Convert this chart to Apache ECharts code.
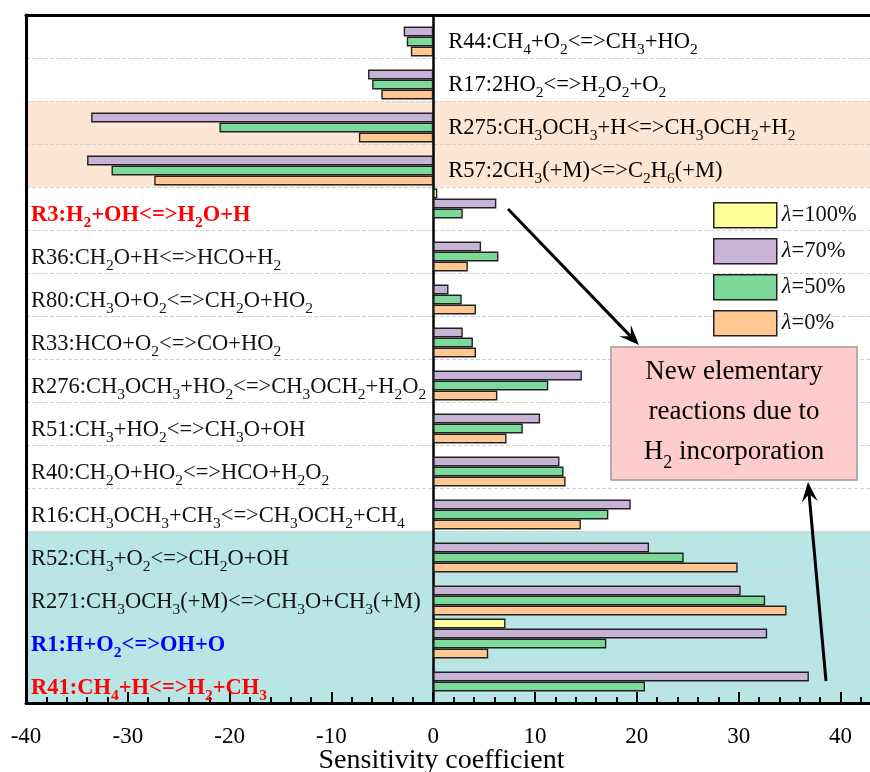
<!DOCTYPE html>
<html>
<head>
<meta charset="utf-8">
<script src="https://cdn.jsdelivr.net/npm/echarts@6/dist/echarts.min.js"></script>
<style>html,body{margin:0;padding:0;background:#fff;}#chart{width:870px;height:772px;}</style>
</head>
<body>
<div id="chart"></div>
<script>
// ---------------- data ----------------
const categories = [
  'R44:CH_4+O_2<=>CH_3+HO_2',
  'R17:2HO_2<=>H_2O_2+O_2',
  'R275:CH_3OCH_3+H<=>CH_3OCH_2+H_2',
  'R57:2CH_3(+M)<=>C_2H_6(+M)',
  'R3:H_2+OH<=>H_2O+H',
  'R36:CH_2O+H<=>HCO+H_2',
  'R80:CH_3O+O_2<=>CH_2O+HO_2',
  'R33:HCO+O_2<=>CO+HO_2',
  'R276:CH_3OCH_3+HO_2<=>CH_3OCH_2+H_2O_2',
  'R51:CH_3+HO_2<=>CH_3O+OH',
  'R40:CH_2O+HO_2<=>HCO+H_2O_2',
  'R16:CH_3OCH_3+CH_3<=>CH_3OCH_2+CH_4',
  'R52:CH_3+O_2<=>CH_2O+OH',
  'R271:CH_3OCH_3(+M)<=>CH_3O+CH_3(+M)',
  'R1:H+O_2<=>OH+O',
  'R41:CH_4+H<=>H_2+CH_3'
];
// label emphasis: n = normal, r = red bold, b = blue bold
const labelKinds = ['n','n','n','n','r','n','n','n','n','n','n','n','n','n','b','r'];
// categories whose label sits right of the zero line
const rightLabelCount = 4;
// background bands: [firstIndex, lastIndex, colour]
const bandGroups = [[2, 3, '#FDE6D4'], [12, 15, '#B9E5E5']];

const seriesNames = ['λ=100%', 'λ=70%', 'λ=50%', 'λ=0%'];
const lam100 = [null, null, null, null, 0.4, null, null, null, null, null, null, null, null, null, 7.1, null];
const lam70  = [-2.9, -6.4, -33.6, -34.0, 6.2, 4.7, 1.5, 2.9, 14.6, 10.5, 12.4, 19.4, 21.2, 30.2, 32.8, 36.9];
const lam50  = [-2.6, -6.0, -21.0, -31.6, 2.9, 6.4, 2.8, 3.9, 11.3, 8.8, 12.8, 17.2, 24.6, 32.6, 17.0, 20.8];
const lam0   = [-2.2, -5.1, -7.3, -27.4, null, 3.4, 4.2, 4.2, 6.3, 7.2, 13.0, 14.5, 29.9, 34.7, 5.4, null];
const seriesColors = ['#FFFF99', '#C8B3D7', '#7DD99A', '#FFC893'];

const xMin = -40, xMax = 43, xInterval = 10;
const xName = 'Sensitivity coefficient';
const noteLines = ['New elementary', 'reactions due to', 'H_2 incorporation'];

// ---------------- helpers ----------------
const FONT = 'Liberation Serif';
function toRich(s, kind) {
  let out = '', buf = '';
  for (let i = 0; i < s.length; i++) {
    if (s[i] === '_') {
      if (buf) { out += '{' + kind + '|' + buf + '}'; buf = ''; }
      out += '{' + kind + 's|' + s[i + 1] + '}';
      i++;
    } else buf += s[i];
  }
  if (buf) out += '{' + kind + '|' + buf + '}';
  return out;
}
function mainStyle(color, weight) {
  return { fontFamily: FONT, fontSize: 22.5, color: color, fontWeight: weight, lineHeight: 24, verticalAlign: 'top' };
}
function subStyle(color, weight) {
  return { fontFamily: FONT, fontSize: 15.5, color: color, fontWeight: weight, lineHeight: 16, padding: [11, 0, 0, 0], verticalAlign: 'top' };
}
const labelRich = {
  n: mainStyle('#111', 'normal'), ns: subStyle('#111', 'normal'),
  r: mainStyle('#FF0000', 'bold'), rs: subStyle('#FF0000', 'bold'),
  b: mainStyle('#0000FF', 'bold'), bs: subStyle('#0000FF', 'bold')
};
const bandColors = categories.map((c, i) => {
  for (const g of bandGroups) if (i >= g[0] && i <= g[1]) return g[2];
  return 'rgba(255,255,255,0)';
});

const allData = [lam100, lam70, lam50, lam0];
const series = seriesNames.map((name, k) => ({
  name: name,
  type: 'bar',
  xAxisIndex: 0,
  yAxisIndex: 0,
  data: allData[k],
  barWidth: 10,
  barGap: '0%',
  itemStyle: { color: seriesColors[k], borderColor: '#222', borderWidth: 1.4 },
  z: 3
}));

// labels of the top categories, anchored at value 0 on the category axis
series.push({
  type: 'custom',
  name: 'rightLabels',
  xAxisIndex: 0,
  yAxisIndex: 0,
  silent: true,
  z: 5,
  encode: { x: 0, y: 1 },
  data: categories.slice(0, rightLabelCount).map((c, i) => [0, i]),
  renderItem: function (params, api) {
    const idx = api.value(1);
    const p = api.coord([api.value(0), idx]);
    return {
      type: 'text',
      x: p[0] + 15,
      y: p[1],
      style: {
        text: toRich(categories[idx], labelKinds[idx]),
        rich: labelRich,
        align: 'left',
        verticalAlign: 'middle',
        padding: [13, 0, 0, 0]
      }
    };
  }
});

function arrow(x1, y1, x2, y2) {
  const ang = Math.atan2(y2 - y1, x2 - x1);
  const L = 20, W = 8, back = 12;
  const bx = x2 - L * Math.cos(ang), by = y2 - L * Math.sin(ang);
  const nx = -Math.sin(ang), ny = Math.cos(ang);
  const mx = x2 - back * Math.cos(ang), my = y2 - back * Math.sin(ang);
  return [
    { type: 'line', z: 100, shape: { x1: x1, y1: y1, x2: mx, y2: my }, style: { stroke: '#000', lineWidth: 3 } },
    { type: 'polygon', z: 100, shape: { points: [[x2, y2], [bx + nx * W, by + ny * W], [mx, my], [bx - nx * W, by - ny * W]] }, style: { fill: '#000' } }
  ];
}

const noteText = noteLines.map(l => toRich(l, 'm')).join('\n');

const chart = echarts.init(document.getElementById('chart'), null, { renderer: 'canvas' });
const option = {
  animation: false,
  backgroundColor: '#fff',
  grid: { left: 26, right: -1, top: 15, bottom: 69, containLabel: false, outerBoundsMode: 'none' },
  legend: {
    orient: 'vertical', left: 708, top: 197,
    itemWidth: 63, itemHeight: 25, itemGap: 9.5,
    icon: 'rect',
    data: seriesNames,
    itemStyle: { borderColor: '#222', borderWidth: 1.5 },
    formatter: n => '{i|λ}{t|' + n.slice(1) + '}',
    textStyle: {
      rich: {
        i: { fontFamily: FONT, fontSize: 22.5, fontStyle: 'italic', color: '#111' },
        t: { fontFamily: FONT, fontSize: 22.5, color: '#111' }
      }
    }
  },
  xAxis: [{
    type: 'value', min: xMin, max: xMax, interval: xInterval, position: 'bottom',
    axisLine: { show: true, onZero: false, lineStyle: { color: '#000', width: 3 } },
    axisTick: { show: true, inside: true, length: 11, lineStyle: { color: '#000', width: 2 } },
    minorTick: { show: true, splitNumber: 5, length: 6, lineStyle: { color: '#000', width: 2 } },
    splitLine: { show: false },
    axisLabel: { showMaxLabel: false, fontSize: 23, fontFamily: FONT, color: '#000', margin: 16, padding: [6, 0, 0, 0] },
    name: xName, nameLocation: 'middle', nameGap: 44, nameMoveOverlap: false,
    nameTextStyle: { fontSize: 28, fontFamily: FONT, color: '#000', padding: [0, 14, 0, 0] }
  }, {
    type: 'value', min: xMin, max: xMax, position: 'top',
    axisLine: { show: true, onZero: false, lineStyle: { color: '#000', width: 3 } },
    axisTick: { show: false }, axisLabel: { show: false }, splitLine: { show: false }
  }],
  yAxis: [{
    type: 'category', inverse: true, data: categories, position: 'left',
    axisLine: { show: true, onZero: false, lineStyle: { color: '#000', width: 3 } },
    axisTick: { show: false },
    axisLabel: {
      inside: true, interval: 0, margin: 5, padding: [15, 0, 0, 0],
      formatter: (v, i) => i >= rightLabelCount ? toRich(v, labelKinds[i]) : '',
      rich: labelRich
    },
    splitLine: { show: true, interval: 0, lineStyle: { type: 'dashed', color: '#d2d2d2', width: 1 } },
    splitArea: { show: true, interval: 0, areaStyle: { color: bandColors } }
  }, {
    type: 'category', inverse: true, data: categories, position: 'right',
    axisLine: { show: true, onZero: true, lineStyle: { color: '#000', width: 2.5 } },
    axisTick: { show: false },
    axisLabel: { show: false },
    splitLine: { show: false }, splitArea: { show: false }
  }],
  series: series,
  graphic: [
    { type: 'rect', z: 100, shape: { x: 611, y: 347, width: 246, height: 133 }, style: { fill: '#FFCCCC', stroke: '#999', lineWidth: 1.5 } },
    { type: 'text', z: 101, x: 734, y: 418,
      style: {
        text: noteText, align: 'center', verticalAlign: 'middle',
        rich: {
          m: { fontFamily: FONT, fontSize: 27, color: '#111', lineHeight: 40, verticalAlign: 'top' },
          ms: { fontFamily: FONT, fontSize: 18, color: '#111', lineHeight: 18, padding: [16, 0, 0, 0], verticalAlign: 'top' }
        }
      }
    }
  ].concat(arrow(508, 209, 639, 345)).concat(arrow(826, 681, 808, 482))
};
chart.setOption(option);
</script>
</body>
</html>
